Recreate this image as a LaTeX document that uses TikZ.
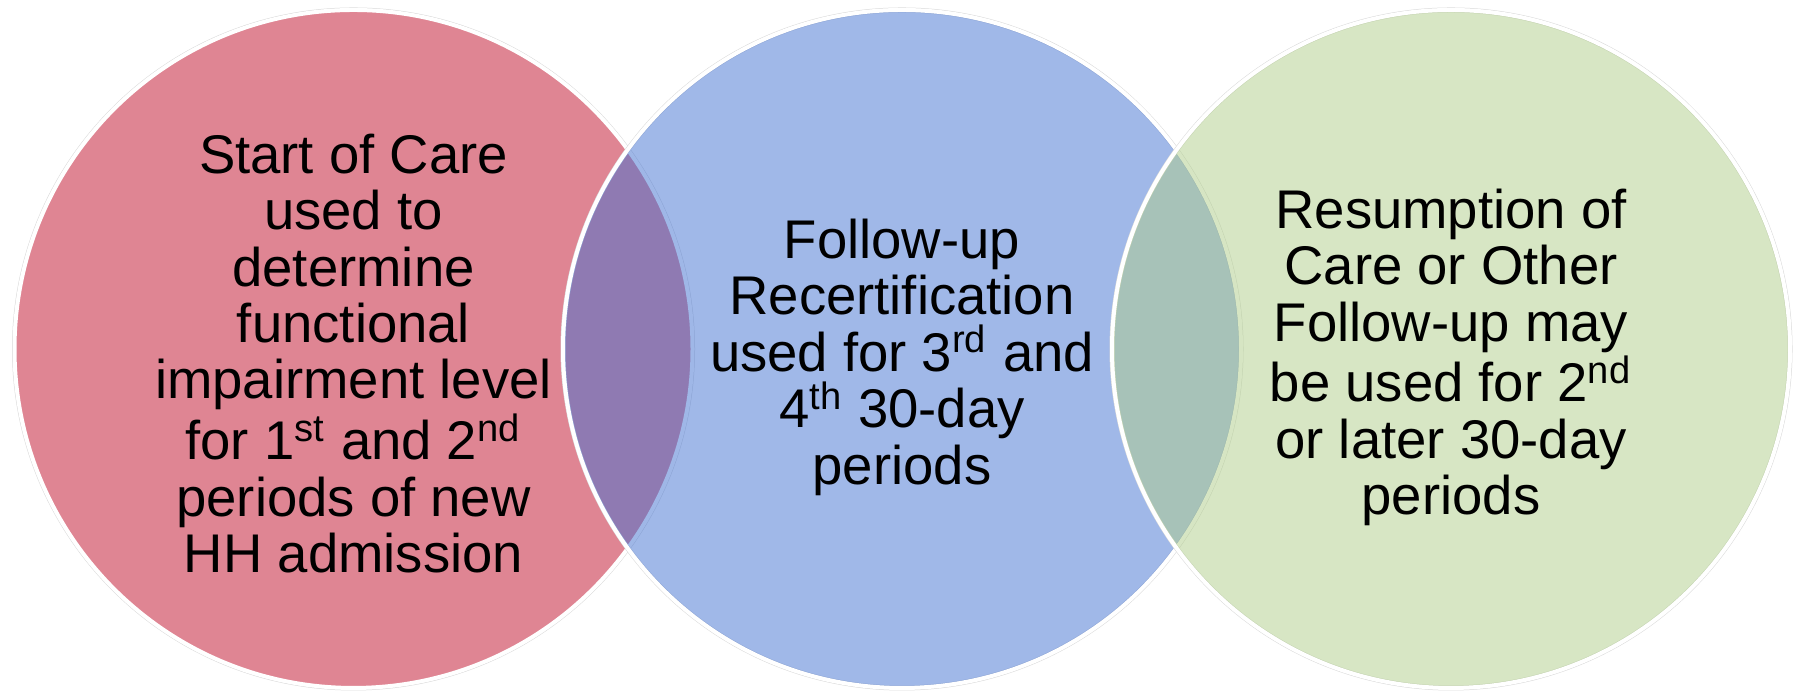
\documentclass[tikz,border=0pt]{standalone}
\usepackage{fontspec}
\setmainfont{Liberation Sans}
\usepackage{tikz}

\definecolor{socpink}{RGB}{223,133,147}
\definecolor{fublue}{RGB}{65,113,209}
\definecolor{rocgreen}{RGB}{175,205,137}

\begin{document}
\begin{tikzpicture}[
        venn/.style={circle, minimum size=6.78cm, inner sep=0pt, draw=white, line width=0.04cm,
                     preaction={draw=black!15, line width=0.05cm}},
        venntext/.style={align=center, font=\fontsize{15.5}{16.07}\selectfont}]
        \useasboundingbox (0,0) rectangle (18.01,6.94);

        \node[venn, fill=socpink]                        (soc)      at (3.535,3.45) {};
        \node[venn, fill=fublue, fill opacity=0.5]       (followup) at (9.02,3.45)  {};
        \node[venn, fill=rocgreen, fill opacity=0.5]     (roc)      at (14.51,3.45) {};

        \node[venntext] (soc_text)      at (soc)      [yshift=-0.045cm] {Start of Care\\used to\\determine\\functional\\impairment level\\for 1\textsuperscript{st} and 2\textsuperscript{nd}\\periods of new\\HH admission};
        \node[venntext] (followup_text) at (followup) [yshift=-0.08cm]  {Follow-up\\Recertification\\used for 3\textsuperscript{rd} and\\4\textsuperscript{th} 30-day\\periods};
        \node[venntext] (roc_text)      at (roc)      [yshift=-0.085cm] {Resumption of\\Care or Other\\Follow-up may\\be used for 2\textsuperscript{nd}\\or later 30-day\\periods};
    \end{tikzpicture}
\end{document}
